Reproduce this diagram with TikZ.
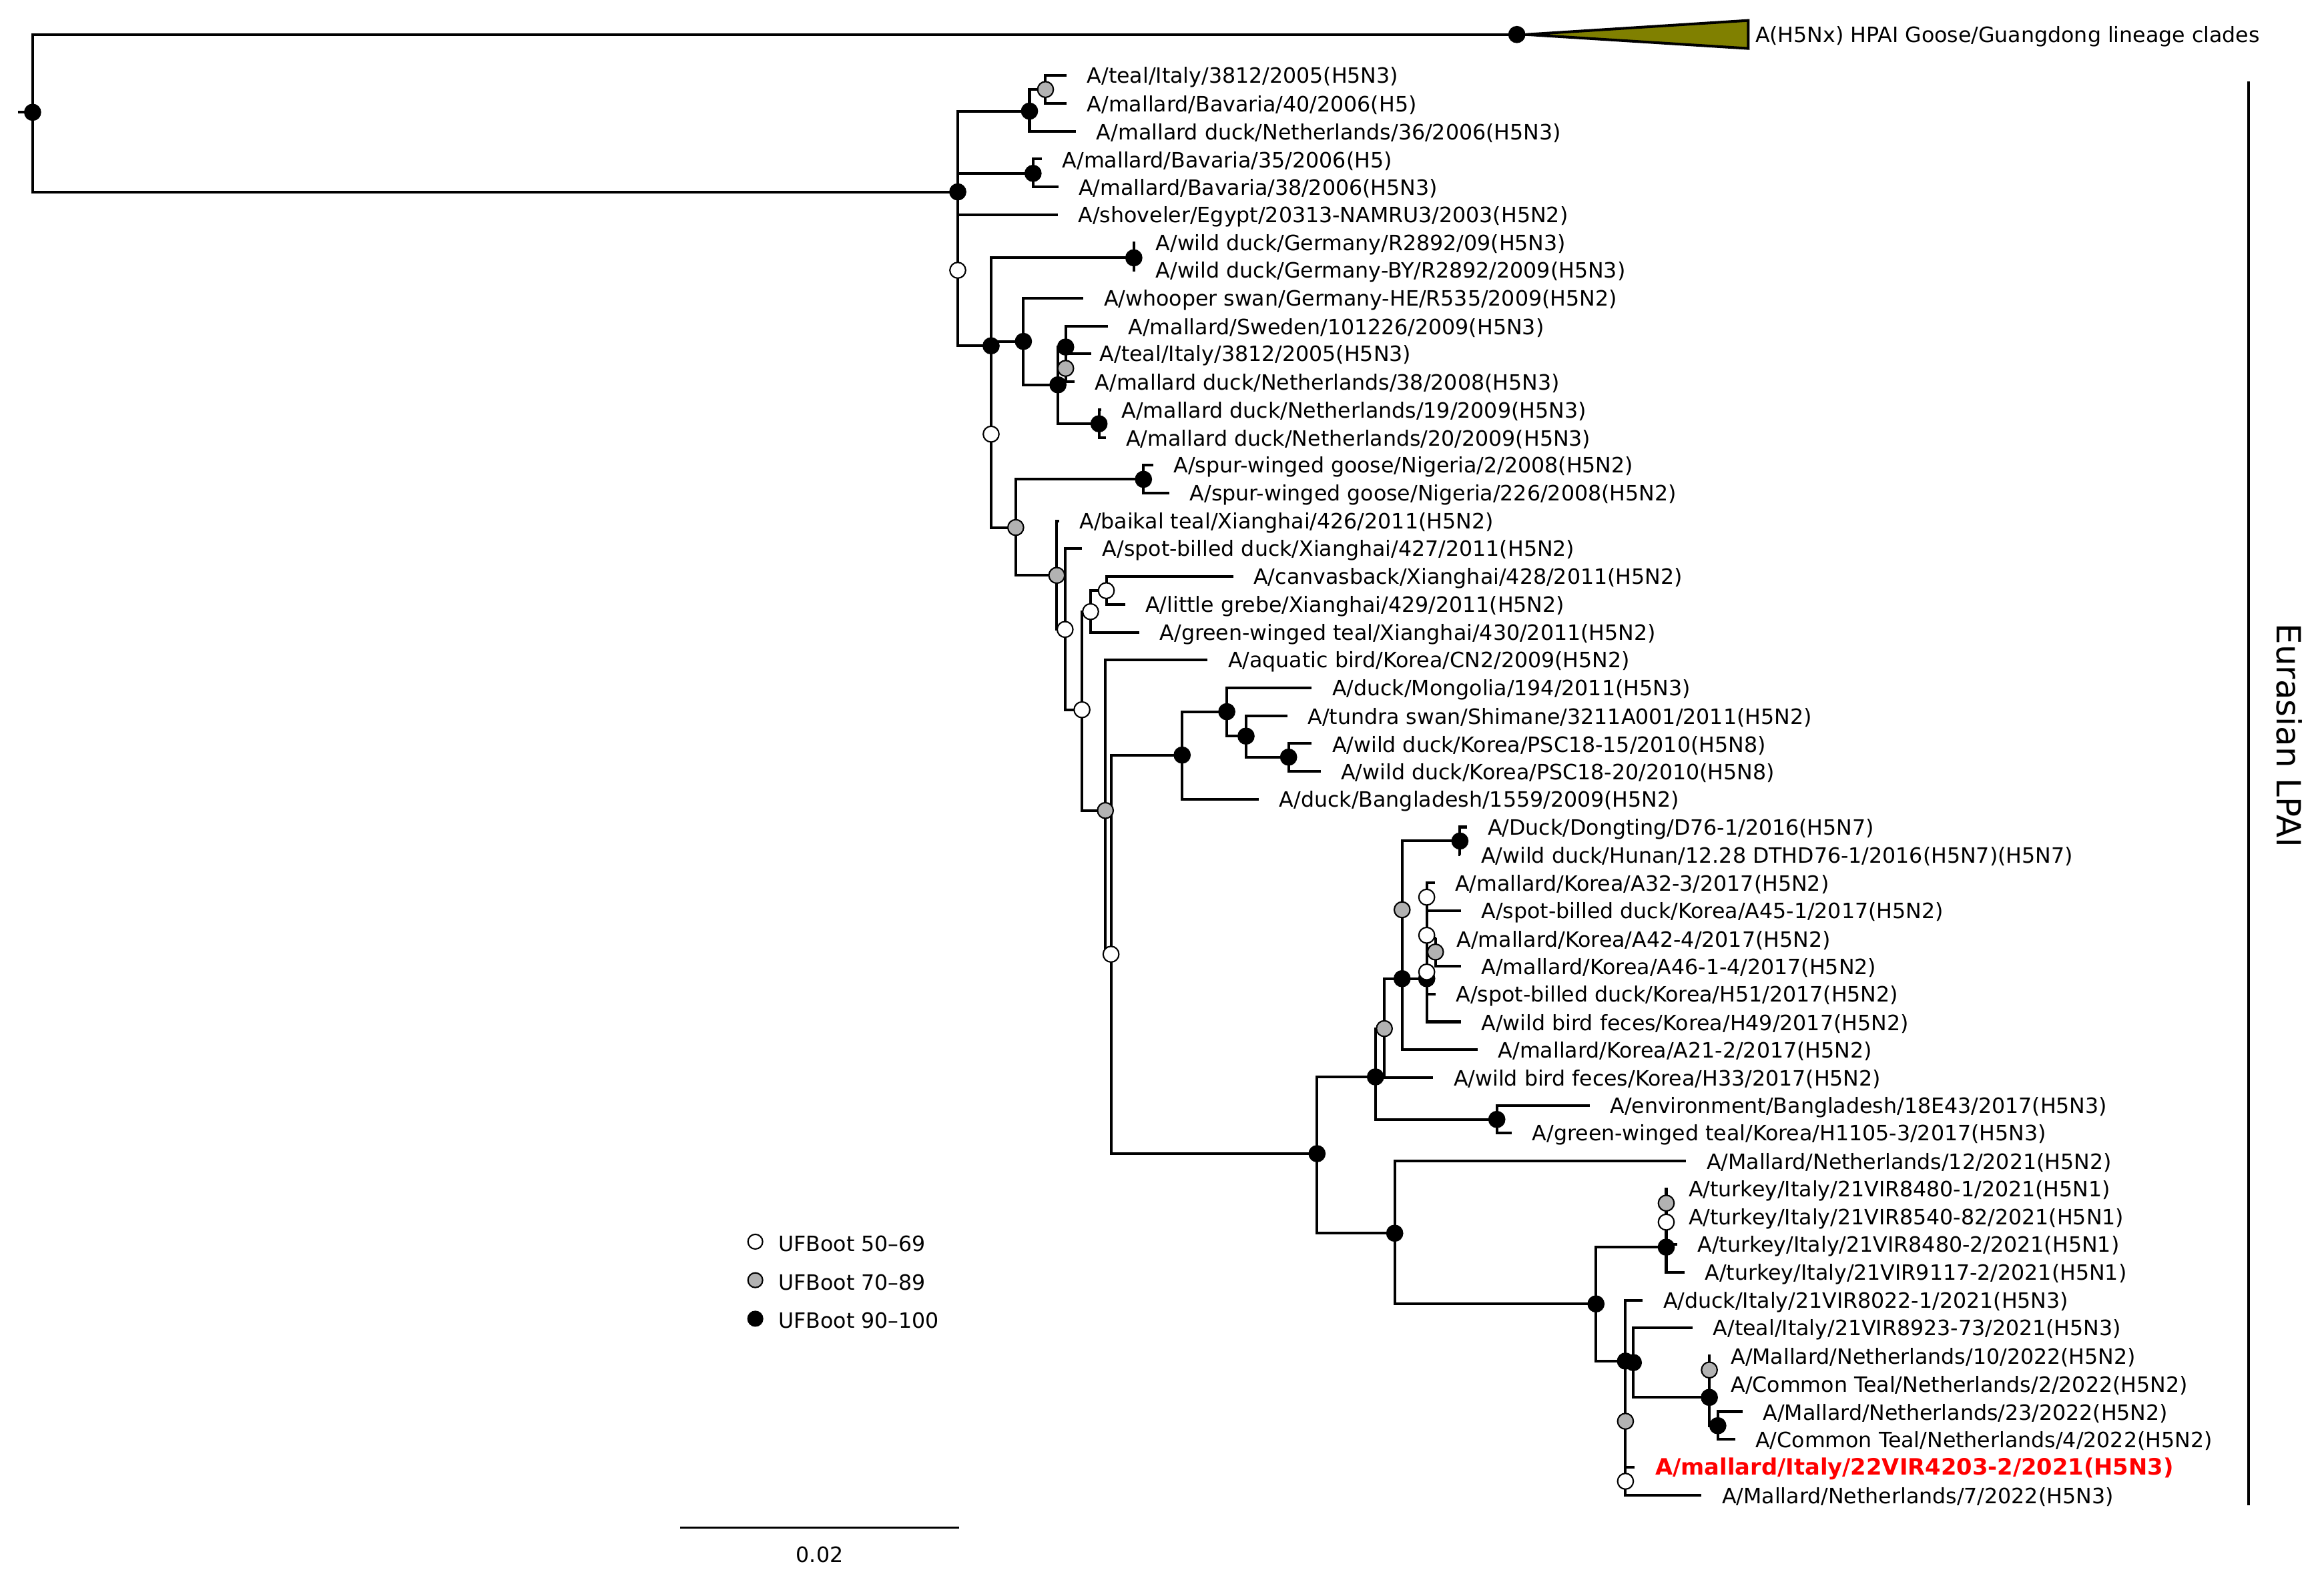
\documentclass[tikz,border=0pt]{standalone}
\usepackage{fontspec}
\setmainfont{DejaVu Sans}
\usetikzlibrary{positioning}
\definecolor{cladeolive}{HTML}{808000}
\tikzset{
  branch/.style={line width=1.15pt},
  ufhi/.style={fill=black, draw=black, line width=0.6pt},
  ufmid/.style={fill=gray!60, draw=black, line width=0.6pt},
  uflo/.style={fill=white, draw=black, line width=0.6pt},
  taxon/.style={inner sep=0pt, yshift=-0.8pt, font=\fontsize{9}{10}\selectfont},
}
\begin{document}
\begin{tikzpicture}[x=0.022207cm, y=-0.022207cm, node distance=0.3cm]
      \useasboundingbox (0,0) rectangle (1568,1066);

      % Internal nodes
      \foreach \n/\x/\y in {r0/22/75.8, hp/1023.4/23.3, a1/646.2/129.5, a2/646.2/182.4,
          c1/694.6/75, g1/705.4/60.4, c2/697/117, b1/668.7/233.4, c3/765/174,
          d1/690.5/230.4, d2/713.8/259.7, d3/719/234.2, g2/719/248.6, d4/741.5/286,
          w1/668.7/293, g3/685.3/356, e1/771.5/323.5, g4/713/388.3, w2/718.6/424.8,
          w3/730/479, w4/735.8/412.8, w5/746.4/398.6, g5/745.8/547, w6/749.6/644,
          f1/797.6/509.6, f2/827.7/480.3, f3/840.7/496.8, f4/869.4/511,
          h1/888.6/778.6, h2/928/726.8, g6/934/694.2, h4/946/660.5, g7/946/614,
          h5/985/567.6, h6/962.6/660.5, w7/962.6/631.2, w8/962.6/605.5, w9/962.6/656,
          g8/968.5/642.5, h3/1009.9/755.5, k1/941/832.3, k2/1076.8/880,
          k3/1124.2/841.7, w10/1124.2/824.8, g9/1124.2/812, k4/1096.7/918.6,
          g10/1096.7/959.2, k5/1102/919.6, k6/1153.3/943.1, g11/1153.3/924.6,
          k7/1159/962.2, w11/1096.7/999.7}
        \coordinate (\n) at (\x,\y);

      % Tips (one row every 18.784)
      \foreach \i/\x in {1/719.6, 2/719.6, 3/726, 4/703, 5/714, 6/713.7, 7/766, 8/766,
          9/731, 10/747.5, 11/736.3, 12/725, 13/743, 14/746, 15/778, 16/789,
          17/714.5, 18/730, 19/832, 20/759, 21/768.7, 22/814.8, 23/885, 24/868.5,
          25/885, 26/891, 27/849.4, 28/990, 29/985.5, 30/968, 31/985.7, 32/969,
          33/985.7, 34/968.5, 35/985.7, 36/997, 37/967, 38/1072.5, 39/1020,
          40/1137.7, 41/1125.5, 42/1125.5, 43/1131.5, 44/1136.5, 45/1108.4,
          46/1142, 47/1154, 48/1154, 49/1175.7, 50/1170.6, 51/1103, 52/1148}
        \coordinate (t\i) at (\x,{51+(\i-1)*18.784});

      % Branches
      \coordinate (r0s) at (12,75.8);
      \draw[branch] (r0s) -- (r0);
      \foreach \p/\c in {r0/hp, r0/a1, a1/c1, a1/c2, a1/t6, a1/a2, c1/g1, c1/t3,
          g1/t1, g1/t2, c2/t4, c2/t5, a2/b1, b1/c3, b1/d1, b1/w1, c3/t7, c3/t8,
          d1/t9, d1/d2, d2/d3, d2/d4, d3/t10, d3/g2, g2/t11, g2/t12, d4/t13, d4/t14,
          w1/g3, g3/e1, g3/g4, e1/t15, e1/t16, g4/t17, g4/w2, w2/t18, w2/w3,
          w3/w4, w3/g5, w4/w5, w4/t21, w5/t19, w5/t20, g5/t22, g5/w6,
          w6/f1, w6/h1, f1/f2, f1/t27, f2/t23, f2/f3, f3/t24, f3/f4, f4/t25, f4/t26,
          h1/h2, h1/k1, h2/g6, h2/h3, g6/h4, g6/t37, h4/g7, h4/t36, g7/h5, g7/h6,
          h5/t28, h5/t29, h6/w7, h6/t35, w7/w8, w7/w9, w8/t30, w8/t31, w9/g8, w9/t34,
          g8/t32, g8/t33, h3/t38, h3/t39, k1/t40, k1/k2, k2/k3, k2/k4,
          k3/w10, k3/t44, w10/g9, w10/t43, g9/t41, g9/t42, k4/t45, k4/g10,
          g10/k5, g10/w11, k5/t46, k5/k6, k6/g11, k6/k7, g11/t47, g11/t48,
          k7/t49, k7/t50, w11/t51, w11/t52}
        \draw[branch] (\p) |- (\c);

      % Collapsed HPAI clade
      \coordinate (hpa) at (1029.7,23.3);
      \coordinate (hpt) at (1179.5,13.8);
      \coordinate (hpb) at (1179.5,32.7);
      \coordinate (hpm) at (1179.5,23.3);
      \draw[branch] (hp) -- (hpa);
      \filldraw[fill=cladeolive, line width=1.15pt] (hpa) -- (hpt) -- (hpb) -- cycle;

      % UFBoot support
      \foreach \n in {r0, hp, a1, c1, c2, b1, c3, d1, d2, d3, d4, e1, f1, f2, f3, f4,
          h1, h2, h3, h4, h5, h6, k1, k2, k3, k4, k5, k6, k7}
        \filldraw[ufhi] (\n) circle[radius=0.118cm];
      \foreach \n in {g1, g2, g3, g4, g5, g6, g7, g8, g9, g10, g11}
        \filldraw[ufmid] (\n) circle[radius=0.118cm];
      \foreach \n in {a2, w1, w2, w3, w4, w5, w6, w7, w8, w9, w10, w11}
        \filldraw[uflo] (\n) circle[radius=0.118cm];

      % Taxa
      \node[taxon, right=0.1cm of hpm] (hpl) {A(H5Nx) HPAI Goose/Guangdong lineage clades};
      \node[taxon, right=of t1] (n1) {A/teal/Italy/3812/2005(H5N3)};
      \node[taxon, right=of t2] (n2) {A/mallard/Bavaria/40/2006(H5)};
      \node[taxon, right=of t3] (n3) {A/mallard duck/Netherlands/36/2006(H5N3)};
      \node[taxon, right=of t4] (n4) {A/mallard/Bavaria/35/2006(H5)};
      \node[taxon, right=of t5] (n5) {A/mallard/Bavaria/38/2006(H5N3)};
      \node[taxon, right=of t6] (n6) {A/shoveler/Egypt/20313-NAMRU3/2003(H5N2)};
      \node[taxon, right=of t7] (n7) {A/wild duck/Germany/R2892/09(H5N3)};
      \node[taxon, right=of t8] (n8) {A/wild duck/Germany-BY/R2892/2009(H5N3)};
      \node[taxon, right=of t9] (n9) {A/whooper swan/Germany-HE/R535/2009(H5N2)};
      \node[taxon, right=of t10] (n10) {A/mallard/Sweden/101226/2009(H5N3)};
      \node[taxon, right=0.12cm of t11] (n11) {A/teal/Italy/3812/2005(H5N3)};
      \node[taxon, right=of t12] (n12) {A/mallard duck/Netherlands/38/2008(H5N3)};
      \node[taxon, right=of t13] (n13) {A/mallard duck/Netherlands/19/2009(H5N3)};
      \node[taxon, right=of t14] (n14) {A/mallard duck/Netherlands/20/2009(H5N3)};
      \node[taxon, right=of t15] (n15) {A/spur-winged goose/Nigeria/2/2008(H5N2)};
      \node[taxon, right=of t16] (n16) {A/spur-winged goose/Nigeria/226/2008(H5N2)};
      \node[taxon, right=of t17] (n17) {A/baikal teal/Xianghai/426/2011(H5N2)};
      \node[taxon, right=of t18] (n18) {A/spot-billed duck/Xianghai/427/2011(H5N2)};
      \node[taxon, right=of t19] (n19) {A/canvasback/Xianghai/428/2011(H5N2)};
      \node[taxon, right=of t20] (n20) {A/little grebe/Xianghai/429/2011(H5N2)};
      \node[taxon, right=of t21] (n21) {A/green-winged teal/Xianghai/430/2011(H5N2)};
      \node[taxon, right=of t22] (n22) {A/aquatic bird/Korea/CN2/2009(H5N2)};
      \node[taxon, right=of t23] (n23) {A/duck/Mongolia/194/2011(H5N3)};
      \node[taxon, right=of t24] (n24) {A/tundra swan/Shimane/3211A001/2011(H5N2)};
      \node[taxon, right=of t25] (n25) {A/wild duck/Korea/PSC18-15/2010(H5N8)};
      \node[taxon, right=of t26] (n26) {A/wild duck/Korea/PSC18-20/2010(H5N8)};
      \node[taxon, right=of t27] (n27) {A/duck/Bangladesh/1559/2009(H5N2)};
      \node[taxon, right=of t28] (n28) {A/Duck/Dongting/D76-1/2016(H5N7)};
      \node[taxon, right=of t29] (n29) {A/wild duck/Hunan/12.28 DTHD76-1/2016(H5N7)(H5N7)};
      \node[taxon, right=of t30] (n30) {A/mallard/Korea/A32-3/2017(H5N2)};
      \node[taxon, right=of t31] (n31) {A/spot-billed duck/Korea/A45-1/2017(H5N2)};
      \node[taxon, right=of t32] (n32) {A/mallard/Korea/A42-4/2017(H5N2)};
      \node[taxon, right=of t33] (n33) {A/mallard/Korea/A46-1-4/2017(H5N2)};
      \node[taxon, right=of t34] (n34) {A/spot-billed duck/Korea/H51/2017(H5N2)};
      \node[taxon, right=of t35] (n35) {A/wild bird feces/Korea/H49/2017(H5N2)};
      \node[taxon, right=of t36] (n36) {A/mallard/Korea/A21-2/2017(H5N2)};
      \node[taxon, right=of t37] (n37) {A/wild bird feces/Korea/H33/2017(H5N2)};
      \node[taxon, right=of t38] (n38) {A/environment/Bangladesh/18E43/2017(H5N3)};
      \node[taxon, right=of t39] (n39) {A/green-winged teal/Korea/H1105-3/2017(H5N3)};
      \node[taxon, right=of t40] (n40) {A/Mallard/Netherlands/12/2021(H5N2)};
      \node[taxon, right=of t41] (n41) {A/turkey/Italy/21VIR8480-1/2021(H5N1)};
      \node[taxon, right=of t42] (n42) {A/turkey/Italy/21VIR8540-82/2021(H5N1)};
      \node[taxon, right=of t43] (n43) {A/turkey/Italy/21VIR8480-2/2021(H5N1)};
      \node[taxon, right=of t44] (n44) {A/turkey/Italy/21VIR9117-2/2021(H5N1)};
      \node[taxon, right=of t45] (n45) {A/duck/Italy/21VIR8022-1/2021(H5N3)};
      \node[taxon, right=of t46] (n46) {A/teal/Italy/21VIR8923-73/2021(H5N3)};
      \node[taxon, right=of t47] (n47) {A/Mallard/Netherlands/10/2022(H5N2)};
      \node[taxon, right=of t48] (n48) {A/Common Teal/Netherlands/2/2022(H5N2)};
      \node[taxon, right=of t49] (n49) {A/Mallard/Netherlands/23/2022(H5N2)};
      \node[taxon, right=of t50] (n50) {A/Common Teal/Netherlands/4/2022(H5N2)};
      \node[taxon, right=of t51, text=red, font=\fontsize{9.6}{10}\selectfont\bfseries] (n51) {A/mallard/Italy/22VIR4203-2/2021(H5N3)};
      \node[taxon, right=of t52] (n52) {A/Mallard/Netherlands/7/2022(H5N3)};

      % Clade bar
      \coordinate (bartop) at (1517,55);
      \coordinate (barbot) at (1517,1016);
      \draw[line width=1pt] (bartop) -- (barbot);
      \node[inner sep=0pt, rotate=-90, font=\fontsize{14.2}{16}\selectfont] (lpai) at (1544.5,496.5) {Eurasian LPAI};

      % Legend
      \coordinate (key1) at (509.6,838);
      \coordinate (key2) at (509.6,864);
      \coordinate (key3) at (509.6,890);
      \filldraw[uflo] (key1) circle[radius=0.11cm];
      \filldraw[ufmid] (key2) circle[radius=0.11cm];
      \filldraw[ufhi] (key3) circle[radius=0.11cm];
      \node[taxon, right=0.34cm of key1] (keyt1) {UFBoot 50–69};
      \node[taxon, right=0.34cm of key2] (keyt2) {UFBoot 70–89};
      \node[taxon, right=0.34cm of key3] (keyt3) {UFBoot 90–100};

      % Scale bar
      \coordinate (sc0) at (459,1031);
      \coordinate (sc1) at (647,1031);
      \draw[line width=0.9pt] (sc0) -- (sc1);
      \node[taxon] (sclab) at (553,1048) {0.02};
    \end{tikzpicture}
\end{document}
